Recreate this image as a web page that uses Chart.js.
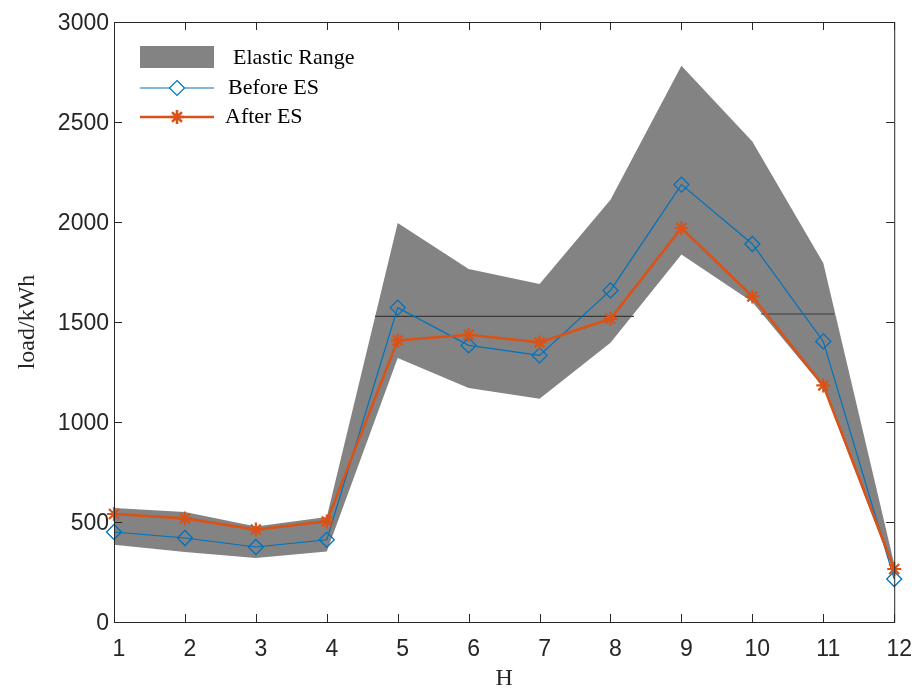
<!DOCTYPE html>
<html>
<head>
<meta charset="utf-8">
<script src="https://cdn.jsdelivr.net/npm/chart.js@4/dist/chart.umd.min.js"></script>
<style>
  body { margin: 0; background: #ffffff; }
  canvas { display: block; }
</style>
</head>
<body>
<canvas id="loadChart" width="921" height="691"></canvas>
<script>
// Hours on the x axis
const hours = [1, 2, 3, 4, 5, 6, 7, 8, 9, 10, 11, 12];
// Load before / after energy storage (kWh)
const beforeES = [450, 420, 375, 411, 1572, 1383, 1333, 1658, 2187, 1890, 1403, 215];
const afterES = [540, 518, 462, 503, 1408, 1436, 1398, 1516, 1970, 1628, 1183, 265];
// Elastic range band edges
const rangeUpper = [570, 550, 478, 525, 1995, 1765, 1690, 2111, 2781, 2403, 1795, 290];
const rangeLower = [386, 350, 320, 353, 1320, 1170, 1116, 1396, 1837, 1600, 1172, 245];
// Thin dark reference line (two pieces)
const refLineX = [4.68, 8.33, null, 10.12, 11.15];
const refLineY = [1528, 1528, null, 1540, 1540];

const yTicks = [0, 500, 1000, 1500, 2000, 2500, 3000];

const BLUE = "#0072BD";
const ORANGE = "#D95319";
const GRAY = "#838383";

const toPoints = (xs, ys) => xs.map((x, i) => ({ x: x, y: ys[i] }));

// small helpers for the markers (used in the legend)
function drawDiamond(ctx, x, y, r) {
  ctx.beginPath();
  ctx.moveTo(x, y - r);
  ctx.lineTo(x + r, y);
  ctx.lineTo(x, y + r);
  ctx.lineTo(x - r, y);
  ctx.closePath();
  ctx.stroke();
}
function drawStar(ctx, x, y, r) {
  ctx.beginPath();
  for (let k = 0; k < 4; k++) {
    const a = k * Math.PI / 4;
    ctx.moveTo(x - r * Math.cos(a), y - r * Math.sin(a));
    ctx.lineTo(x + r * Math.cos(a), y + r * Math.sin(a));
  }
  ctx.stroke();
}

// MATLAB-style box with inward ticks, plus the legend in the top-left
const framePlugin = {
  id: "frame",
  afterDraw(chart) {
    const { ctx, chartArea: a, scales } = chart;
    ctx.save();
    ctx.strokeStyle = "#262626";
    ctx.lineWidth = 1;
    ctx.strokeRect(a.left + 0.5, a.top + 0.5, a.right - a.left, a.bottom - a.top);
    ctx.beginPath();
    hours.forEach((h) => {
      const px = Math.round(scales.x.getPixelForValue(h)) + 0.5;
      ctx.moveTo(px, a.bottom); ctx.lineTo(px, a.bottom - 8);
      ctx.moveTo(px, a.top); ctx.lineTo(px, a.top + 8);
    });
    yTicks.forEach((v) => {
      const py = Math.round(scales.y.getPixelForValue(v)) + 0.5;
      ctx.moveTo(a.left, py); ctx.lineTo(a.left + 8, py);
      ctx.moveTo(a.right, py); ctx.lineTo(a.right - 8, py);
    });
    ctx.stroke();

    // legend
    ctx.fillStyle = GRAY;
    ctx.fillRect(140, 46, 74, 22);
    ctx.strokeStyle = BLUE;
    ctx.lineWidth = 1.2;
    ctx.beginPath(); ctx.moveTo(140, 88); ctx.lineTo(214, 88); ctx.stroke();
    ctx.fillStyle = "#ffffff";
    ctx.beginPath(); ctx.moveTo(177, 80.5); ctx.lineTo(184.5, 88); ctx.lineTo(177, 95.5); ctx.lineTo(169.5, 88); ctx.closePath(); ctx.fill();
    drawDiamond(ctx, 177, 88, 7.5);
    ctx.strokeStyle = ORANGE;
    ctx.lineWidth = 2.6;
    ctx.beginPath(); ctx.moveTo(140, 117); ctx.lineTo(214, 117); ctx.stroke();
    drawStar(ctx, 177, 117, 7);

    ctx.fillStyle = "#000000";
    ctx.font = '22px "Liberation Serif"';
    ctx.textBaseline = "middle";
    ctx.fillText("Elastic Range", 233, 58);
    ctx.fillText("Before ES", 228, 88);
    ctx.fillText("After ES", 225, 117);
    ctx.restore();
  },
};

const ctx = document.getElementById("loadChart").getContext("2d");
new Chart(ctx, {
  type: "line",
  data: {
    datasets: [
      {
        label: "After ES",
        data: toPoints(hours, afterES),
        borderColor: ORANGE,
        borderWidth: 2.6,
        pointStyle: "star",
        pointRadius: 7,
        pointBorderWidth: 2.2,
        pointBorderColor: ORANGE,
        pointBackgroundColor: "rgba(0,0,0,0)",
        fill: false,
        clip: false,
      },
      {
        label: "Before ES",
        data: toPoints(hours, beforeES),
        borderColor: BLUE,
        borderWidth: 1.2,
        pointStyle: "rectRot",
        pointRadius: 7.5,
        pointBorderWidth: 1.3,
        pointBorderColor: BLUE,
        pointBackgroundColor: "rgba(0,0,0,0)",
        fill: false,
        clip: false,
      },
      {
        label: "ref",
        data: toPoints(refLineX, refLineY),
        borderColor: "#3a3a3a",
        borderWidth: 1.2,
        pointRadius: 0,
        spanGaps: false,
        fill: false,
      },
      {
        label: "Elastic Range",
        data: toPoints(hours, rangeUpper),
        borderWidth: 0,
        borderColor: GRAY,
        backgroundColor: GRAY,
        pointRadius: 0,
        fill: "+1",
        clip: false,
      },
      {
        label: "lower",
        data: toPoints(hours, rangeLower),
        borderWidth: 0,
        borderColor: GRAY,
        pointRadius: 0,
        fill: false,
        clip: false,
      },
    ],
  },
  options: {
    responsive: false,
    animation: false,
    layout: { padding: { top: 22, right: 23, left: 0, bottom: 0 } },
    elements: { line: { tension: 0 } },
    plugins: {
      legend: { display: false },
      tooltip: { enabled: false },
    },
    scales: {
      x: {
        type: "linear",
        min: 1,
        max: 12,
        afterFit: (scale) => { scale.height = 69; },
        afterBuildTicks: (scale) => { scale.ticks = hours.map((v) => ({ value: v })); },
        grid: { display: false, drawTicks: false },
        border: { display: false },
        ticks: {
          padding: 14,
          labelOffset: 5,
          color: "#262626",
          font: { family: '"Liberation Sans", Arial', size: 23 },
          callback: (v) => String(v),
        },
        title: {
          display: true,
          text: "H",
          color: "#262626",
          padding: 0,
          font: { family: '"Liberation Serif"', size: 24, lineHeight: 1 },
        },
      },
      y: {
        min: 0,
        max: 3000,
        afterFit: (scale) => { scale.width = 114; },
        afterBuildTicks: (scale) => { scale.ticks = yTicks.map((v) => ({ value: v })); },
        grid: { display: false, drawTicks: false },
        border: { display: false },
        ticks: {
          padding: 5,
          labelOffset: 1.5,
          color: "#262626",
          font: { family: '"Liberation Sans", Arial', size: 23 },
          callback: (v) => String(v),
        },
        title: {
          display: true,
          text: "load/kWh",
          color: "#262626",
          padding: { top: 16, bottom: 0 },
          font: { family: '"Liberation Serif"', size: 24, lineHeight: 1 },
        },
      },
    },
  },
  plugins: [framePlugin],
});
</script>
</body>
</html>
